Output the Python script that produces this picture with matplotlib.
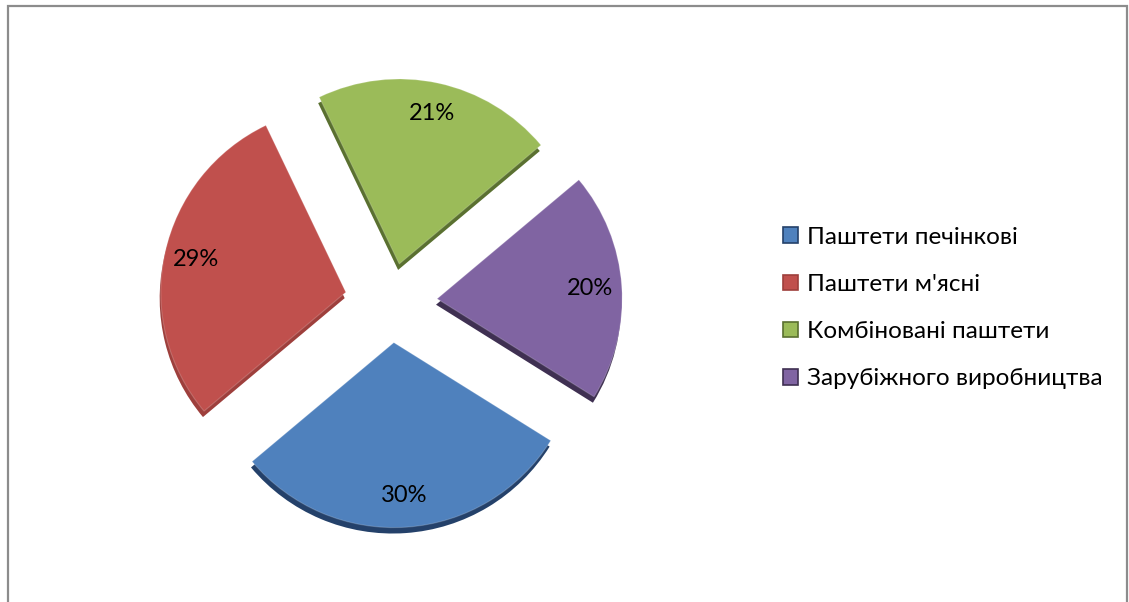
"""Market share of pâté categories — exploded pie with a bevelled look."""

import matplotlib
matplotlib.use("Agg")
import matplotlib.pyplot as plt
from matplotlib.patches import Patch, Rectangle

# Data
categories = [
    "Паштети печінкові",
    "Паштети м'ясні",
    "Комбіновані паштети",
    "Зарубіжного виробництва",
]
shares = [30, 29, 21, 20]

# Styling
face_colors = ["#4F81BD", "#C0504D", "#9BBB59", "#8064A2"]
side_colors = ["#24416A", "#9E3F3C", "#5A7030", "#3F3052"]
explode = [0.22, 0.25, 0.21, 0.25]
FONT = ["Lato", "DejaVu Sans"]

W, H = 1129, 602
RADIUS_PX = 185
CENTER_PX = (391, 302)

plt.rcParams["font.family"] = FONT

fig = plt.figure(figsize=(W / 100, H / 100), dpi=100)
fig.patch.set_facecolor("white")

# Outer chart-area frame (bottom edge runs off the image)
fig.patches.append(Rectangle(
    (8 / W, -0.05), (1127 - 8) / W, (H - 6) / H + 0.05,
    transform=fig.transFigure, fill=False,
    edgecolor="#8C8C8C", linewidth=1.6,
))

ax = fig.add_axes([0, 0, 1, 1])

# Extruded side of each slice, drawn first and nudged downwards
ax.pie(
    shares, explode=explode, colors=side_colors, startangle=328,
    counterclock=False, radius=1.0, center=(-0.006, -0.032),
    wedgeprops={"linewidth": 0},
)

# Top face of each slice
wedges, _, autotexts = ax.pie(
    shares, explode=explode, colors=face_colors, startangle=328,
    counterclock=False, radius=1.0, autopct="%1.0f%%", pctdistance=0.83,
    wedgeprops={"linewidth": 0.8, "edgecolor": "#FFFFFF30"},
    textprops={"fontsize": 17, "color": "black"},
)

# Map one data unit to the slice radius in pixels
cx, cy = CENTER_PX
ax.set_xlim(-cx / RADIUS_PX, (W - cx) / RADIUS_PX)
ax.set_ylim(-(H - cy) / RADIUS_PX, cy / RADIUS_PX)
ax.set_aspect("auto")
ax.set_axis_off()

handles = [
    Patch(facecolor=fc, edgecolor=sc, linewidth=1.2)
    for fc, sc in zip(face_colors, side_colors)
]
fig.legend(
    handles, categories, loc="center left",
    bbox_to_anchor=(783 / W, 1 - 308 / H), frameon=False,
    prop={"size": 17.5}, handlelength=0.6, handleheight=0.6,
    handletextpad=0.4, labelspacing=1.08, borderpad=0, borderaxespad=0,
)

fig.savefig("out.png", dpi=100, facecolor=fig.get_facecolor())
plt.close(fig)
